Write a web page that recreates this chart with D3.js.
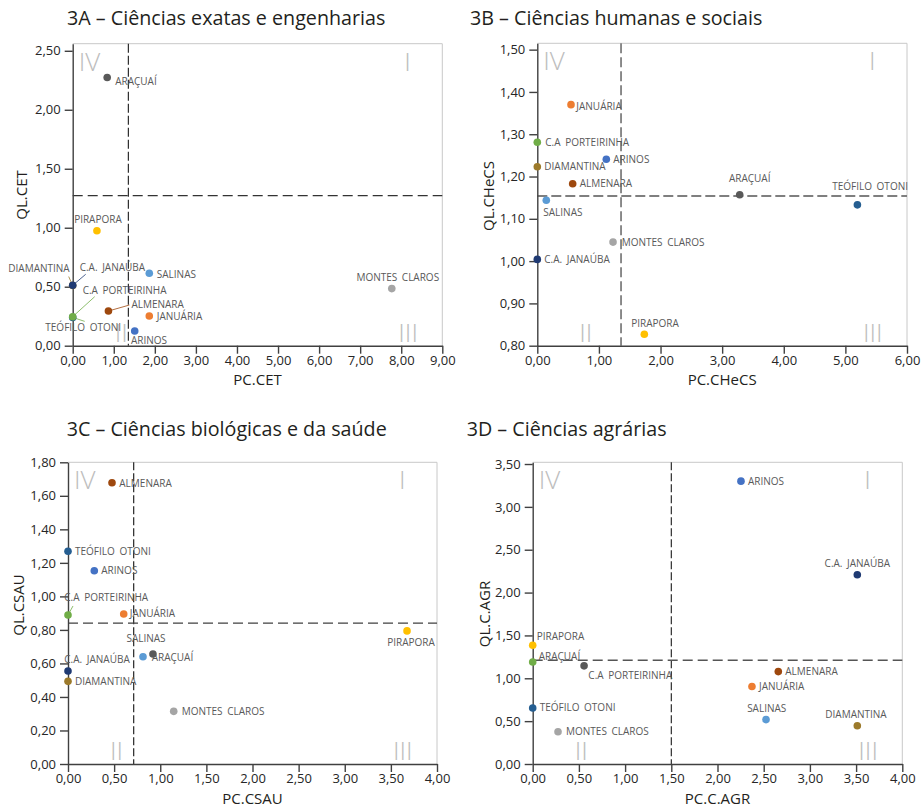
<!DOCTYPE html>
<html>
<head>
<meta charset="utf-8">
<script src="https://cdn.jsdelivr.net/npm/d3@7"></script>
<style>
  body { margin: 0; background: #fff; }
  text { font-family: "Open Sans", "DejaVu Sans", sans-serif; }
  .tick text { font-size: 13px; fill: #262626; }
  .tick line, .domain { stroke: #404040; }
  .city { font-size: 10px; fill: #595959; word-spacing: 2px; }
  .quad { font-size: 26px; font-weight: 300; fill: #bdbdbd; }
  .title { font-size: 19.7px; fill: #231f20; }
  .axtitle { font-size: 15px; fill: #231f20; }
</style>
</head>
<body>
<div id="chart"></div>
<script>
// City colours (same city keeps its colour across the four panels)
var cities = ["ARAÇUAÍ", "PIRAPORA", "DIAMANTINA", "C.A. JANAÚBA", "SALINAS", "MONTES CLAROS",
              "C.A PORTEIRINHA", "TEÓFILO OTONI", "ALMENARA", "JANUÁRIA", "ARINOS"];
var cityColors = ["#595959", "#ffc000", "#9c7a2b", "#1f3a73", "#5b9bd5", "#a5a5a5",
                  "#70ad47", "#255e91", "#9e480e", "#ed7d31", "#4472c4"];

// 3A - exact sciences and engineering
var namesA = ["TEÓFILO OTONI", "DIAMANTINA", "ARAÇUAÍ", "PIRAPORA", "C.A. JANAÚBA", "SALINAS",
              "MONTES CLAROS", "C.A PORTEIRINHA", "ALMENARA", "JANUÁRIA", "ARINOS"];
var pcCET = [0, 0, 0.84, 0.59, 0, 1.865, 7.77, 0, 0.87, 1.865, 1.51];
var qlCET = [0.24, 0.51, 2.273, 0.975, 0.512, 0.614, 0.484, 0.246, 0.294, 0.252, 0.125];
var cutA = [1.355, 1.272];
var xTicksA = [0, 1, 2, 3, 4, 5, 6, 7, 8, 9];
var yTicksA = [0, 0.5, 1, 1.5, 2, 2.5];

// 3B - human and social sciences
var namesB = ["JANUÁRIA", "C.A PORTEIRINHA", "ARINOS", "DIAMANTINA", "ALMENARA", "ARAÇUAÍ",
              "TEÓFILO OTONI", "SALINAS", "MONTES CLAROS", "C.A. JANAÚBA", "PIRAPORA"];
var pcCHeCS = [0.547, 0, 1.12, 0, 0.574, 3.285, 5.195, 0.146, 1.229, 0, 1.737];
var qlCHeCS = [1.370, 1.281, 1.241, 1.223, 1.183, 1.157, 1.133, 1.144, 1.045, 1.004, 0.827];
var cutB = [1.359, 1.154];
var xTicksB = [0, 1, 2, 3, 4, 5, 6];
var yTicksB = [0.8, 0.9, 1.0, 1.1, 1.2, 1.3, 1.4, 1.5];

// 3C - biological and health sciences
var namesC = ["ALMENARA", "TEÓFILO OTONI", "ARINOS", "C.A PORTEIRINHA", "JANUÁRIA", "PIRAPORA",
              "SALINAS", "ARAÇUAÍ", "C.A. JANAÚBA", "DIAMANTINA", "MONTES CLAROS"];
var pcCSAU = [0.477, 0, 0.285, 0, 0.604, 3.675, 0.813, 0.921, 0, 0, 1.146];
var qlCSAU = [1.678, 1.269, 1.153, 0.889, 0.895, 0.794, 0.640, 0.656, 0.555, 0.493, 0.314];
var cutC = [0.712, 0.841];
var xTicksC = [0, 0.5, 1, 1.5, 2, 2.5, 3, 3.5, 4];
var yTicksC = [0, 0.2, 0.4, 0.6, 0.8, 1.0, 1.2, 1.4, 1.6, 1.8];

// 3D - agrarian sciences
var namesD = ["ARINOS", "C.A. JANAÚBA", "PIRAPORA", "ARAÇUAÍ", "C.A PORTEIRINHA", "ALMENARA",
              "JANUÁRIA", "TEÓFILO OTONI", "SALINAS", "DIAMANTINA", "MONTES CLAROS"];
var pcCAGR = [2.254, 3.513, 0, 0, 0.556, 2.658, 2.373, 0, 2.525, 3.513, 0.274];
var qlCAGR = [3.30, 2.208, 1.386, 1.19, 1.145, 1.078, 0.904, 0.654, 0.518, 0.447, 0.377];
var cutD = [1.50, 1.21];
var xTicksD = [0, 0.5, 1, 1.5, 2, 2.5, 3, 3.5, 4];
var yTicksD = [0, 0.5, 1, 1.5, 2, 2.5, 3, 3.5];

var colorScale = d3.scaleOrdinal().domain(cities).range(cityColors);
var fmt = function(v) { return d3.format(".2f")(v).replace(".", ","); };

var svg = d3.select("#chart").append("svg")
    .attr("width", 924)
    .attr("height", 809);

/* Panel layouts. Label placement: [dx, dy, anchor, leader dx, leader dy, leader colour city]
   relative to the point; anything not listed sits to the right of its point. */
var panels = [
  { title: "3A – Ciências exatas e engenharias", tx: 67, ty: 25,
    names: namesA, xs: pcCET, ys: qlCET, cut: cutA, xTicks: xTicksA, yTicks: yTicksA,
    xDomain: [0, 9], yDomain: [0, 2.56], xLabel: "PC.CET", yLabel: "QL.CET",
    box: [72.7, 43.7, 442.3, 345.7], yTitleX: 27, yTitleY: 195,
    vLine: ["#1a1a1a", 1.1, "9,3"], hLine: ["#333", 1.2, "10,5"],
    place: {
      "ARAÇUAÍ": [8, 7, "start"],
      "PIRAPORA": [1, -8, "middle"],
      "DIAMANTINA": [-3, -14, "end", -4, -9],
      "C.A. JANAÚBA": [7, -14, "start", 13, -11],
      "SALINAS": [7.5, 5, "start"],
      "MONTES CLAROS": [6, -7.7, "middle"],
      "C.A PORTEIRINHA": [10, -22.5, "start", 22, -20],
      "TEÓFILO OTONI": [10.5, 14, "middle", 12, 4, "C.A PORTEIRINHA"],
      "ALMENARA": [23, -3.5, "start", 21, -6],
      "JANUÁRIA": [7.5, 4.5, "start"],
      "ARINOS": [-3.7, 12.8, "start"]
    } },
  { title: "3B – Ciências humanas e sociais", tx: 470, ty: 25,
    names: namesB, xs: pcCHeCS, ys: qlCHeCS, cut: cutB, xTicks: xTicksB, yTicks: yTicksB,
    xDomain: [0, 6], yDomain: [0.8, 1.515], xLabel: "PC.CHeCS", yLabel: "QL.CHeCS",
    box: [537.3, 43.3, 907, 345.7], yTitleX: 494, yTitleY: 196,
    vLine: ["#7f7f7f", 1.8, "10,4"], hLine: ["#7f7f7f", 1.8, "10,4"],
    place: {
      "JANUÁRIA": [5.3, 5, "start"],
      "C.A PORTEIRINHA": [8, 3.7, "start"],
      "ARAÇUAÍ": [10, -13, "middle"],
      "TEÓFILO OTONI": [12.7, -15, "middle"],
      "SALINAS": [-3, 15.5, "start"],
      "MONTES CLAROS": [8.7, 3.5, "start"],
      "PIRAPORA": [10.7, -7.5, "middle"]
    } },
  { title: "3C – Ciências biológicas e da saúde", tx: 66.7, ty: 436,
    names: namesC, xs: pcCSAU, ys: qlCSAU, cut: cutC, xTicks: xTicksC, yTicks: yTicksC,
    xDomain: [0, 4], yDomain: [0, 1.8], xLabel: "PC.CSAU", yLabel: "QL.CSAU",
    box: [68, 462.3, 437, 764], yTitleX: 24, yTitleY: 605,
    vLine: ["#262626", 1.2, "8,3"], hLine: ["#404040", 1.3, "10,5"],
    place: {
      "ALMENARA": [7.3, 3.8, "start"],
      "C.A PORTEIRINHA": [-3.7, -13.5, "start", 5, -9],
      "JANUÁRIA": [6, 3.5, "start"],
      "PIRAPORA": [4, 14.8, "middle"],
      "SALINAS": [3, -15, "middle"],
      "ARAÇUAÍ": [-1.3, 6.5, "start"],
      "C.A. JANAÚBA": [-3.7, -7.5, "start"],
      "MONTES CLAROS": [8, 3.5, "start"]
    } },
  { title: "3D – Ciências agrárias", tx: 466.7, ty: 436,
    names: namesD, xs: pcCAGR, ys: qlCAGR, cut: cutD, xTicks: xTicksD, yTicks: yTicksD,
    xDomain: [0, 4], yDomain: [0, 3.52], xLabel: "PC.C.AGR", yLabel: "QL.C.AGR",
    box: [532.7, 462.3, 902.3, 764], yTitleX: 490, yTitleY: 614,
    vLine: ["#1a1a1a", 1.1, "8,3"], hLine: ["#555", 1.4, "10,5"],
    // in the source figure these two cities have their colours swapped
    recolor: { "ARAÇUAÍ": "C.A PORTEIRINHA", "C.A PORTEIRINHA": "ARAÇUAÍ" },
    place: {
      "C.A. JANAÚBA": [0, -7.5, "middle"],
      "PIRAPORA": [4, -5.5, "start"],
      "ARAÇUAÍ": [6, -2.5, "start"],
      "C.A PORTEIRINHA": [4.3, 12.8, "start"],
      "SALINAS": [0.7, -8, "middle"],
      "DIAMANTINA": [-1.3, -8, "middle"],
      "MONTES CLAROS": [8, 3.5, "start"]
    } }
];

panels.forEach(drawPanel);

function drawPanel(p) {
  var left = p.box[0], top = p.box[1], right = p.box[2], bottom = p.box[3];
  var xScale = d3.scaleLinear().domain(p.xDomain).range([left, right]),
      yScale = d3.scaleLinear().domain(p.yDomain).range([bottom, top]);
  var recolor = p.recolor || {};
  function colorOf(name) { return colorScale(recolor[name] || name); }

  var g = svg.append("g");

  // Title
  g.append("text").attr("class", "title")
      .attr("x", p.tx).attr("y", p.ty)
      .text(p.title);

  // Light frame on top and right
  g.append("path")
      .attr("d", "M" + left + "," + top + "H" + right + "V" + bottom)
      .attr("fill", "none")
      .attr("stroke", "#c8c8c8")
      .attr("stroke-width", 1);

  // Quadrant numerals
  var quads = [["IV", left + 6, top + 27], ["I", right - 38, top + 27],
               ["II", left + 42, bottom - 4], ["III", right - 44, bottom - 4]];
  g.selectAll(".quad").data(quads).enter().append("text")
      .attr("class", "quad")
      .attr("x", function(d) { return d[1]; })
      .attr("y", function(d) { return d[2]; })
      .text(function(d) { return d[0]; });

  // Mean lines
  g.append("line")
      .attr("x1", xScale(p.cut[0])).attr("x2", xScale(p.cut[0]))
      .attr("y1", top).attr("y2", bottom)
      .attr("stroke", p.vLine[0]).attr("stroke-width", p.vLine[1])
      .attr("stroke-dasharray", p.vLine[2]);
  g.append("line")
      .attr("x1", left).attr("x2", right)
      .attr("y1", yScale(p.cut[1])).attr("y2", yScale(p.cut[1]))
      .attr("stroke", p.hLine[0]).attr("stroke-width", p.hLine[1])
      .attr("stroke-dasharray", p.hLine[2]);

  // Axes
  g.append("g")
      .attr("transform", "translate(0," + bottom + ")")
      .call(d3.axisBottom(xScale).tickValues(p.xTicks).tickFormat(fmt)
              .tickSizeInner(8).tickSizeOuter(0).tickPadding(2))
      .call(function(a) { a.selectAll(".domain, .tick line").attr("stroke-width", 1.4); });
  g.append("g")
      .attr("transform", "translate(" + left + ",0)")
      .call(d3.axisLeft(yScale).tickValues(p.yTicks).tickFormat(fmt)
              .tickSizeInner(8).tickSizeOuter(0).tickPadding(4))
      .call(function(a) { a.selectAll(".domain, .tick line").attr("stroke-width", 1.4); });

  // Axis titles
  g.append("text").attr("class", "axtitle")
      .attr("text-anchor", "middle")
      .attr("x", (left + right) / 2).attr("y", bottom + 39.5)
      .text(p.xLabel);
  g.append("text").attr("class", "axtitle")
      .attr("text-anchor", "middle")
      .attr("transform", "translate(" + p.yTitleX + "," + p.yTitleY + ") rotate(-90)")
      .text(p.yLabel);

  var pts = p.names.map(function(n, i) {
    var pl = p.place[n] || [7, 3.5, "start"];
    return { name: n, x: xScale(p.xs[i]), y: yScale(p.ys[i]), pl: pl };
  });

  // Leader lines
  g.selectAll(".leader").data(pts.filter(function(d) { return d.pl.length > 3; }))
    .enter().append("line")
      .attr("x1", function(d) { return d.x; })
      .attr("y1", function(d) { return d.y; })
      .attr("x2", function(d) { return d.x + d.pl[3]; })
      .attr("y2", function(d) { return d.y + d.pl[4]; })
      .attr("stroke", function(d) { return colorOf(d.pl[5] || d.name); })
      .attr("stroke-width", 0.8);

  // Dots
  g.selectAll(".dot").data(pts).enter().append("circle")
      .attr("cx", function(d) { return d.x; })
      .attr("cy", function(d) { return d.y; })
      .attr("r", 3.8)
      .attr("fill", function(d) { return colorOf(d.name); });

  // City labels
  g.selectAll(".city").data(pts).enter().append("text")
      .attr("class", "city")
      .attr("x", function(d) { return d.x + d.pl[0]; })
      .attr("y", function(d) { return d.y + d.pl[1]; })
      .attr("text-anchor", function(d) { return d.pl[2]; })
      .text(function(d) { return d.name; });
}
</script>
</body>
</html>
